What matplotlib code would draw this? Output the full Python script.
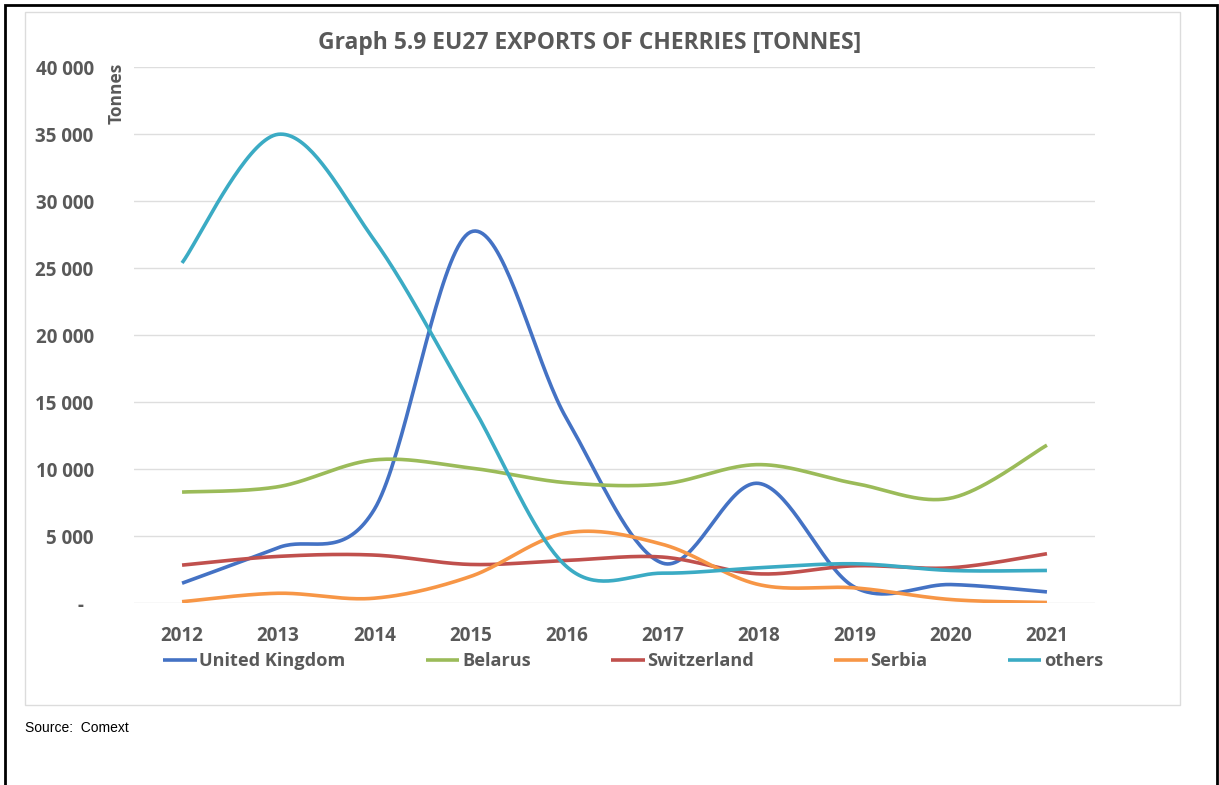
import numpy as np
import matplotlib.pyplot as plt
from matplotlib.patches import Rectangle
from matplotlib.ticker import FuncFormatter

# DATA (tonnes)

years = [2012, 2013, 2014, 2015, 2016, 2017, 2018, 2019, 2020, 2021]

uk = [1500, 4150, 7000, 27700, 13800, 3000, 8950, 1200, 1400, 850]
belarus = [8300, 8700, 10700, 10100, 9000, 8900, 10350, 8950, 7850, 11800]
switzerland = [2850, 3500, 3600, 2900, 3200, 3450, 2200, 2800, 2650, 3700]
serbia = [120, 750, 380, 2000, 5250, 4400, 1400, 1150, 280, 60]
others = [25400, 35000, 27100, 15000, 2750, 2250, 2650, 2950, 2450, 2450]

names = ["United Kingdom", "Belarus", "Switzerland", "Serbia", "others"]
colors = ["#4472C4", "#9BBB59", "#C0504D", "#F79646", "#3BABC4"]

yticks = [0, 5000, 10000, 15000, 20000, 25000, 30000, 35000, 40000]

W, H = 1219, 785
GREY = "#595959"
FONT = "Open Sans"


#EXCEL-STYLE SMOOTH LINE (bezier through points)

def smooth(x, y, n=40):
    x = np.asarray(x, float)
    y = np.asarray(y, float)
    px = np.concatenate([[x[0]], x, [x[-1]]])
    py = np.concatenate([[y[0]], y, [y[-1]]])
    t = np.linspace(0, 1, n)[:, None]
    xs, ys = [], []
    for i in range(1, len(px) - 2):
        p0 = np.array([px[i], py[i]])
        p3 = np.array([px[i + 1], py[i + 1]])
        c1 = p0 + (np.array([px[i + 1], py[i + 1]]) - np.array([px[i - 1], py[i - 1]])) / 6
        c2 = p3 - (np.array([px[i + 2], py[i + 2]]) - np.array([px[i], py[i]])) / 6
        b = ((1 - t) ** 3) * p0 + 3 * ((1 - t) ** 2) * t * c1 \
            + 3 * (1 - t) * t ** 2 * c2 + t ** 3 * p3
        xs.append(b[:, 0])
        ys.append(b[:, 1])
    return np.concatenate(xs), np.concatenate(ys)


fig = plt.figure(figsize=(W / 100, H / 100), dpi=100)

# frames
fig.patches.append(Rectangle((5 / W, -0.01), 1212 / W, 1 - 5 / H + 0.01,
                             transform=fig.transFigure, fill=False,
                             edgecolor="black", linewidth=2))
fig.patches.append(Rectangle((25 / W, 1 - 705 / H), 1155 / W, 693 / H,
                             transform=fig.transFigure, fill=False,
                             edgecolor="#dcdcdc", linewidth=1))

ax = fig.add_axes([134 / W, 1 - 603.3 / H, (1095 - 134) / W, (603.3 - 67.3) / H])

for vals, name, col in zip([uk, belarus, switzerland, serbia, others], names, colors):
    sx, sy = smooth(years, vals)
    ax.plot(sx, sy, color=col, linewidth=2.6, label=name,
            solid_capstyle="butt")

ax.set_xlim(2011.5, 2021.5)
ax.set_ylim(0, 40000)
ax.set_xticks(years)
ax.set_yticks(yticks)
ax.yaxis.set_major_formatter(FuncFormatter(
    lambda v, p: "-  " if v == 0 else f"{int(v):,}".replace(",", " ")))

ax.grid(axis="y", color="#dedede", linewidth=1)
ax.set_axisbelow(True)
for s in ax.spines.values():
    s.set_visible(False)

ax.tick_params(axis="x", length=0, pad=16, labelsize=13.5, labelcolor=GREY)
ax.tick_params(axis="y", length=0, pad=29, labelsize=13.5, labelcolor=GREY)
for lab in ax.get_xticklabels() + ax.get_yticklabels():
    lab.set_fontfamily(FONT)
    lab.set_fontweight("bold")

fig.text(117 / W, 1 - 93 / H, "Tonnes", rotation=90, ha="center", va="center",
         fontsize=12.5, fontweight="bold", color=GREY, family=FONT)

fig.text(590 / W, 1 - 43 / H, "Graph 5.9 EU27 EXPORTS OF CHERRIES [TONNES]",
         ha="center", va="center", fontsize=16.5, fontweight="bold",
         color=GREY, family=FONT)

leg = ax.legend(loc="center left", bbox_to_anchor=(163 / W, 1 - 661 / H),
                bbox_transform=fig.transFigure, ncol=5, frameon=False,
                borderpad=0, borderaxespad=0, handlelength=1.85,
                handletextpad=0.15, columnspacing=4.4,
                prop={"family": FONT, "weight": "bold", "size": 13.1})
for t in leg.get_texts():
    t.set_color(GREY)

fig.text(25 / W, 1 - 728 / H, "Source:  Comext", ha="left", va="center",
         fontsize=10, color="black", family="Liberation Sans")

fig.savefig("out.png", dpi=100)
